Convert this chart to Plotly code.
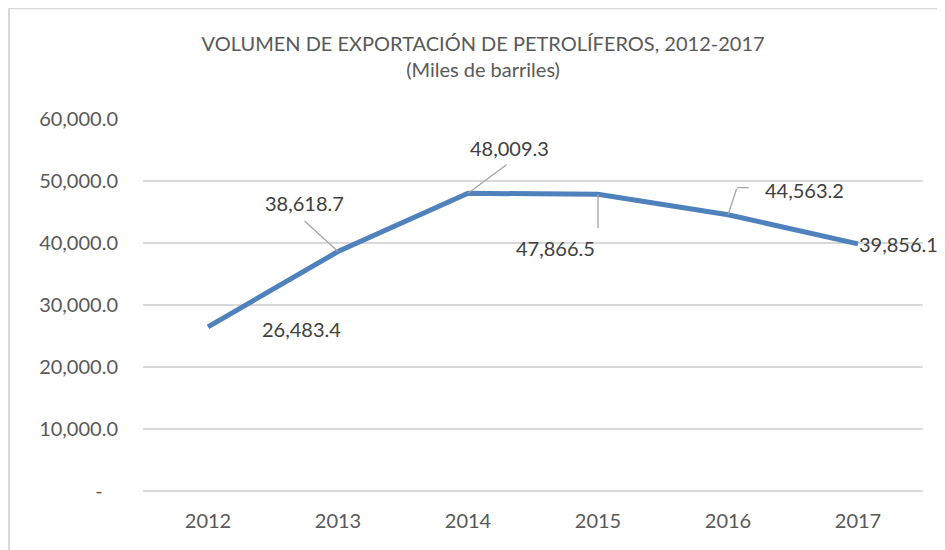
import plotly.graph_objects as go

years = ["2012", "2013", "2014", "2015", "2016", "2017"]
volumes = [26483.4, 38618.7, 48009.3, 47866.5, 44563.2, 39856.1]
y_tick_vals = [0, 10000, 20000, 30000, 40000, 50000, 60000]
y_tick_text = ["-\u00a0\u00a0\u00a0", "10,000.0", "20,000.0", "30,000.0", "40,000.0", "50,000.0", "60,000.0"]
labels = [f"{v:,.1f}" for v in volumes]

FONT = "Lato, 'Open Sans', sans-serif"
LINE_COLOR = "#4f81bd"
LEADER = "#a6a6a6"

fig = go.Figure()
fig.add_trace(go.Scatter(
    x=years, y=volumes, mode="lines",
    line=dict(color=LINE_COLOR, width=5),
    hoverinfo="skip", showlegend=False,
))

# label placement styles (pixel offsets):
# (label xshift, label yshift [up positive],
#  leader segments: list of (start xshift, start yshift [up +], dx, dy [down +]))
placements = [
    (93, -2, []),
    (-34, 49, [(0, 0, -34, -31)]),
    (41, 45, [(0, 0, 39, -29)]),
    (-43, -54, [(0, 0, 0, 35)]),
    (76, 25, [(0, 0, 9, -27), (9, 27, 12, 0)]),
    (40, 0, []),
]
for i, (v, lab, (xs, ys, segs)) in enumerate(zip(volumes, labels, placements)):
    fig.add_annotation(x=i, y=v, xref="x", yref="y", text=lab, showarrow=False,
                       xshift=xs, yshift=ys,
                       font=dict(family=FONT, size=20, color="#404040"))
    for sx, sy, dx, dy in segs:
        fig.add_annotation(x=i, y=v, xref="x", yref="y", text=" ", showarrow=True, arrowhead=0,
                           arrowcolor=LEADER, arrowwidth=1.3, ax=dx, ay=dy,
                           xshift=sx, yshift=sy,
                           standoff=0, borderpad=0, font=dict(size=1))

# outer chart border (left and top)
fig.add_shape(type="line", xref="paper", yref="paper", x0=-0.1718, x1=-0.1718, y0=-0.3, y1=1.298,
              line=dict(color="#d9d9d9", width=2))
fig.add_shape(type="line", xref="paper", yref="paper", x0=-0.1718, x1=1.1, y0=1.298, y1=1.298,
              line=dict(color="#d9d9d9", width=2))

fig.update_layout(
    width=937, height=542,
    margin=dict(l=135, r=22, t=111, b=59),
    paper_bgcolor="white", plot_bgcolor="white",
    title=dict(text="VOLUMEN DE EXPORTACIÓN DE PETROLÍFEROS, 2012-2017<br>(Miles de barriles)",
               x=0.507, xanchor="center", y=0.92, yanchor="top",
               font=dict(family=FONT, size=20, color="#595959")),
    font=dict(family=FONT, color="#595959"),
)
fig.update_xaxes(type="category", range=[-0.5, 5.5], showgrid=False, showline=False, zeroline=False,
                 ticks="outside", tickcolor="rgba(0,0,0,0)", ticklen=12,
                 tickfont=dict(family=FONT, size=20, color="#595959"))
fig.update_yaxes(range=[0, 60000], tickvals=y_tick_vals, ticktext=y_tick_text,
                 showgrid=True, gridcolor="#d9d9d9", gridwidth=2,
                 zeroline=True, zerolinecolor="#d9d9d9", zerolinewidth=2, showline=False,
                 ticks="outside", tickcolor="rgba(0,0,0,0)", ticklen=20,
                 tickfont=dict(family=FONT, size=20, color="#595959"))

fig.write_html("out.html")
